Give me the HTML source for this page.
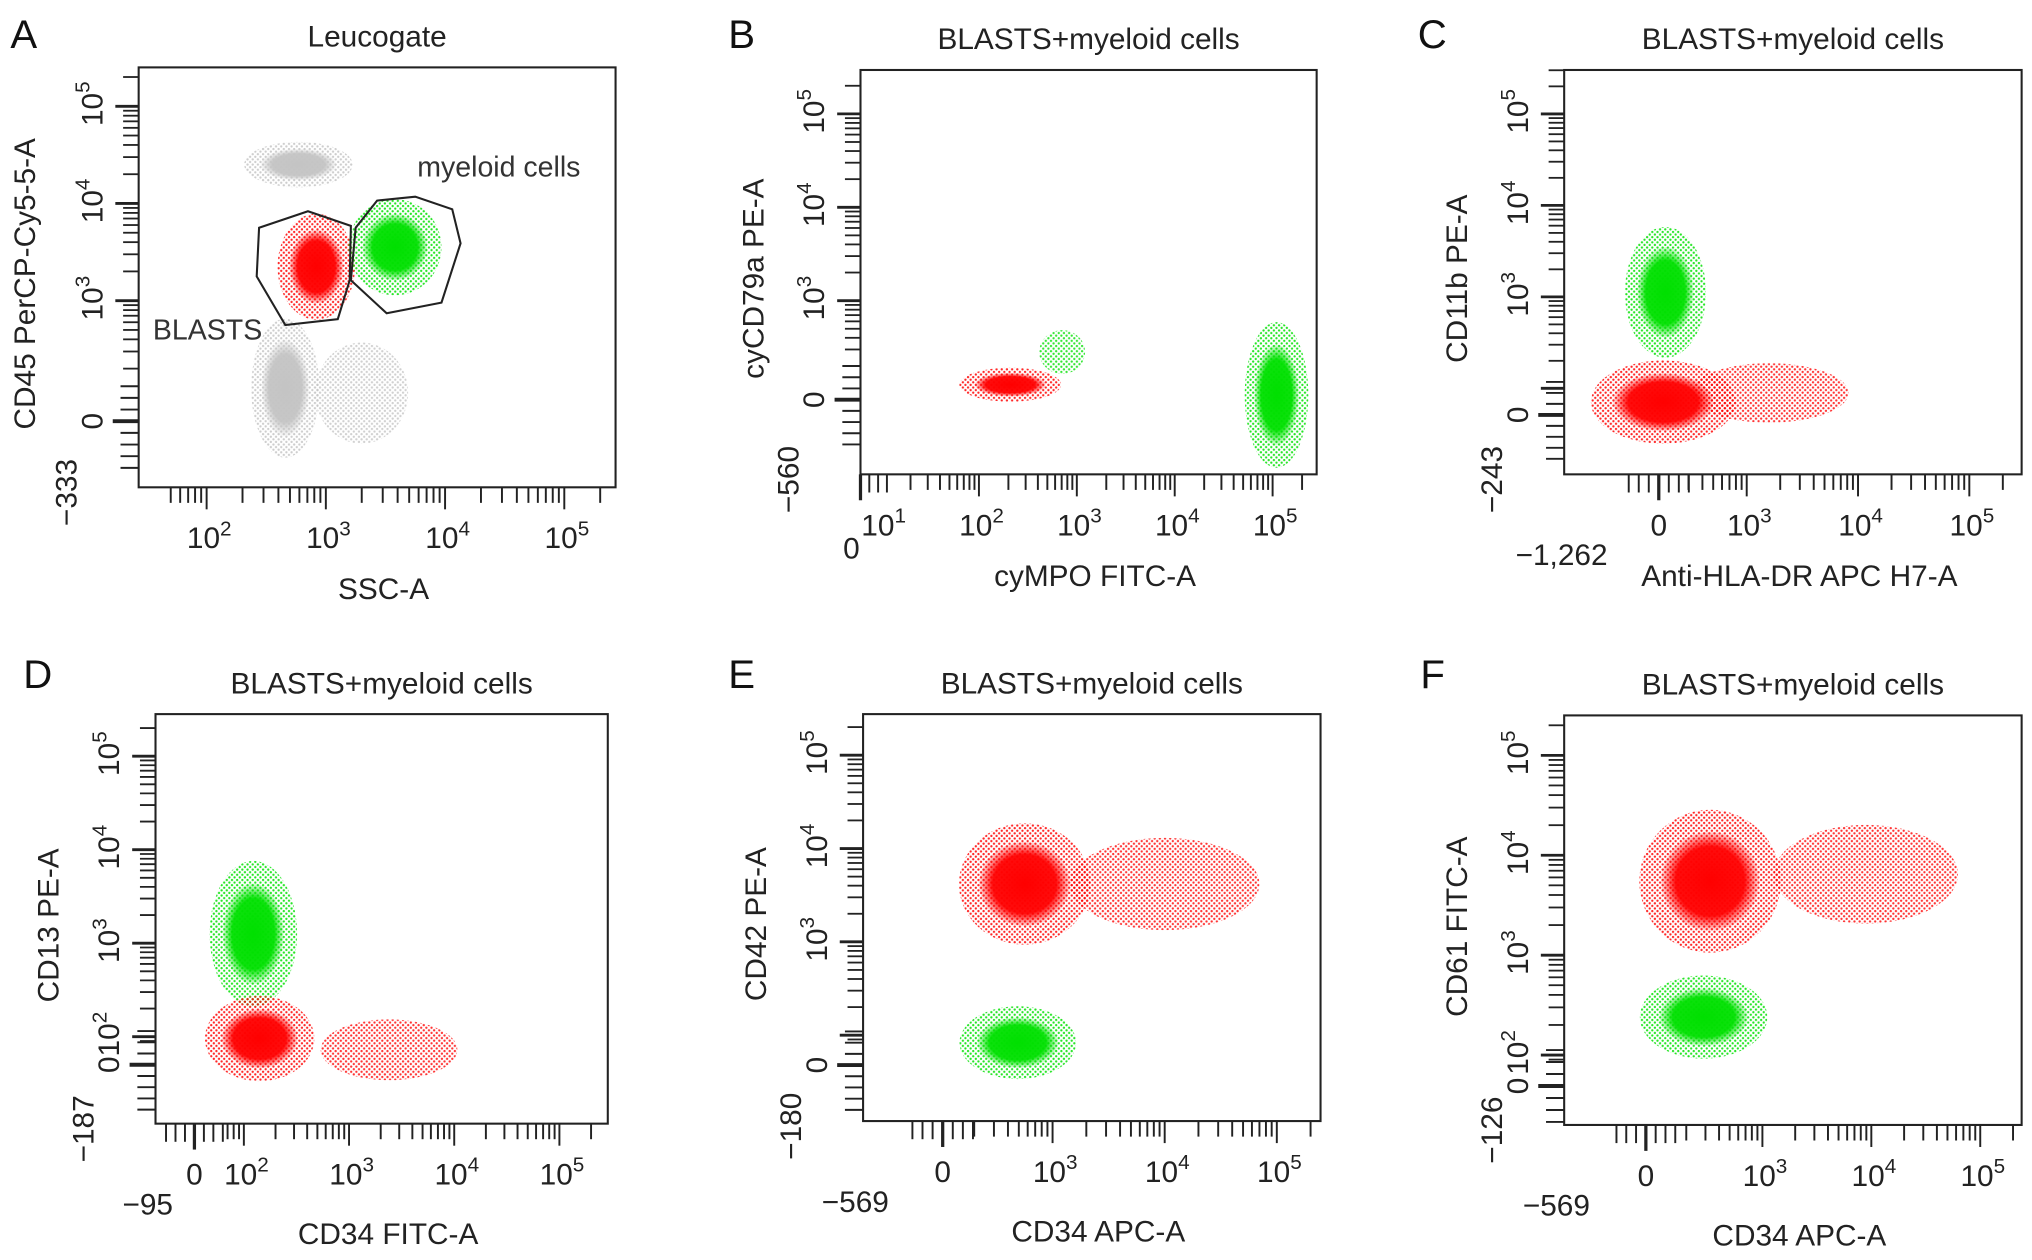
<!DOCTYPE html>
<html><head><meta charset="utf-8"><style>
html,body{margin:0;padding:0;background:#fff;}
svg{display:block;font-family:"Liberation Sans",Arial,sans-serif;}
</style></head><body>
<svg id="fig" width="2032" height="1260" viewBox="0 0 1568 972.2" preserveAspectRatio="none" xmlns="http://www.w3.org/2000/svg">
<defs>
<pattern id="spR" width="4" height="4" patternUnits="userSpaceOnUse"><circle cx="1" cy="1" r="0.9" fill="#ff0000"/><circle cx="3" cy="3" r="0.9" fill="#ff0000"/></pattern>
<pattern id="spG" width="4" height="4" patternUnits="userSpaceOnUse"><circle cx="1" cy="1" r="0.9" fill="#00e000"/><circle cx="3" cy="3" r="0.9" fill="#00e000"/></pattern>
<pattern id="spK" width="4" height="4" patternUnits="userSpaceOnUse"><circle cx="1" cy="1" r="0.9" fill="#c4c4c4"/><circle cx="3" cy="3" r="0.9" fill="#c4c4c4"/></pattern>
<radialGradient id="gR"><stop offset="0" stop-color="#ff0000" stop-opacity="1"/><stop offset="0.7" stop-color="#ff0000" stop-opacity="0.95"/><stop offset="1" stop-color="#ff0000" stop-opacity="0.1"/></radialGradient>
<radialGradient id="gG"><stop offset="0" stop-color="#00e000" stop-opacity="1"/><stop offset="0.7" stop-color="#00e000" stop-opacity="0.95"/><stop offset="1" stop-color="#00e000" stop-opacity="0.1"/></radialGradient>
<radialGradient id="gK"><stop offset="0" stop-color="#c4c4c4" stop-opacity="1"/><stop offset="0.7" stop-color="#c4c4c4" stop-opacity="0.95"/><stop offset="1" stop-color="#c4c4c4" stop-opacity="0.1"/></radialGradient>
</defs>
</svg>
<script>
// ---- panel data (axis units: 10^n -> n) ----
const panelIds = ['A','B','C','D','E','F'];
const panelTitles = ['Leucogate','BLASTS+myeloid cells','BLASTS+myeloid cells','BLASTS+myeloid cells','BLASTS+myeloid cells','BLASTS+myeloid cells'];
const xTitles = ['SSC-A','cyMPO FITC-A','Anti-HLA-DR APC H7-A','CD34 FITC-A','CD34 APC-A','CD34 APC-A'];
const yTitles = ['CD45 PerCP-Cy5-5-A','cyCD79a PE-A','CD11b PE-A','CD13 PE-A','CD42 PE-A','CD61 FITC-A'];
const xZero = [null,0.79,2.21,1.53,2.02,1.93];
const yZero = [1.76,1.94,1.71,1.70,1.68,1.69];
const xDecades = [[2,3,4,5],[1,2,3,4,5],[3,4,5],[2,3,4,5],[3,4,5],[3,4,5]];
const yDecades = [[3,4,5],[3,4,5],[3,4,5],[2,3,4,5],[3,4,5],[2,3,4,5]];
const xMinLabel = [null,null,'\u22121,262','\u221295','\u2212569','\u2212569'];
const yMinLabel = ['\u2212333','\u2212560','\u2212243','\u2212187','\u2212180','\u2212126'];
const xRange = [[1.43,5.43],[0.79,5.45],[1.36,5.47],[1.16,5.46],[1.31,5.39],[1.18,5.38]];
const yRange = [[1.08,5.4],[1.14,5.47],[1.06,5.48],[1.07,5.45],[1.08,5.44],[1.30,5.40]];
// clusters: panel index, center x/y, spread x/y (axis units), colour
const clusterPanel = [0,0,0,0,0, 1,1,1, 2,2,2, 3,3,3, 4,4,4, 5,5,5];
const clusterX =     [2.77,2.66,3.30,2.92,3.58, 2.32,2.85,5.04, 2.27,2.25,3.2, 2.09,2.15,3.38, 2.75,4.0,2.69, 2.52,3.95,2.46];
const clusterY =     [4.40,2.10,2.05,3.35,3.55, 2.10,2.45,1.99, 3.05,1.85,1.95, 3.10,1.98,1.86, 3.62,3.62,1.92, 3.74,3.81,2.38];
const clusterSX =    [0.35,0.22,0.30,0.25,0.30, 0.40,0.18,0.25, 0.28,0.50,0.55, 0.32,0.40,0.50, 0.45,0.65,0.40, 0.50,0.65,0.45];
const clusterSY =    [0.18,0.55,0.40,0.42,0.38, 0.14,0.18,0.60, 0.55,0.35,0.25, 0.60,0.35,0.25, 0.50,0.38,0.30, 0.55,0.38,0.32];
const clusterColor = ['K','K','K','R','G', 'R','G','G', 'G','R','R', 'G','R','R', 'R','R','G', 'R','R','G'];
const clusterDense = [1,1,0,1,1, 1,0,1, 1,1,0, 1,1,0, 1,0,1, 1,0,1];
// gates in panel A
const gateBlastsX = [2.44,2.85,3.21,3.20,3.10,2.66,2.42];
const gateBlastsY = [3.75,3.92,3.77,3.21,2.81,2.75,3.25];
const gateMyeloidX = [3.25,3.43,3.75,4.06,4.13,3.97,3.51,3.21];
const gateMyeloidY = [3.75,4.03,4.07,3.94,3.59,2.98,2.87,3.21];

// ---- layout (not data) ----
const boxes = [[107,52,475,376],[664,54,1016,366],[1207,54,1560,366],[120,551,469,867],[666,551,1019,865],[1207,552,1560,868]];
const letterPos = [[8,37],[562,37],[1094,37],[18,531],[562,531],[1096,531]];

const NS='http://www.w3.org/2000/svg';
const svg=document.getElementById('fig');
function el(t,a,p){const e=document.createElementNS(NS,t);for(const k in a)e.setAttribute(k,a[k]);(p||svg).appendChild(e);return e;}
function sx(i,u){const b=boxes[i],r=xRange[i];return b[0]+(u-r[0])/(r[1]-r[0])*(b[2]-b[0]);}
function sy(i,u){const b=boxes[i],r=yRange[i];return b[3]-(u-r[0])/(r[1]-r[0])*(b[3]-b[1]);}
function pow(parent,x,y,n,rot){
  const t=el('text',{x:x,y:y,'font-size':23,'text-anchor':'middle',fill:'#222'},parent);
  if(rot)t.setAttribute('transform','rotate(-90 '+x+' '+y+')');
  t.textContent='10';
  const s=el('tspan',{dy:-10,'font-size':16},t);s.textContent=String(n);
  return t;
}

panelIds.forEach((id,i)=>{
  const g=el('g',{});
  
  
  const b=boxes[i];
  const L=el('text',{x:letterPos[i][0],y:letterPos[i][1],'font-size':31,fill:'#111'},g);
  
  
  L.textContent=id;
  const T=el('text',{x:(b[0]+b[2])/2,y:b[1]-16,'font-size':23,'text-anchor':'middle',fill:'#222'},g);
  
  
  T.textContent=panelTitles[i];
  const plot=el('g',{},g);
  
  
  const cp=el('clipPath',{id:'cp'+i},plot);el('rect',{x:b[0],y:b[1],width:b[2]-b[0],height:b[3]-b[1]},cp);
  const cg=el('g',{'clip-path':'url(#cp'+i+')'},plot);
  clusterPanel.forEach((p,k)=>{
    if(p!==i)return;
    const cx=sx(i,clusterX[k]),cy=sy(i,clusterY[k]);
    const rx=Math.abs(sx(i,clusterX[k]+clusterSX[k])-cx),ry=Math.abs(sy(i,clusterY[k]+clusterSY[k])-cy);
    const c=clusterColor[k];
    const outer=el('ellipse',{cx:cx,cy:cy,rx:rx*1.3,ry:ry*1.3,fill:'url(#sp'+c+')',opacity:clusterDense[k]?0.85:0.8},cg);
    
    
    if(clusterDense[k]){
      const core=el('ellipse',{cx:cx,cy:cy,rx:rx*0.9,ry:ry*0.9,fill:'url(#g'+c+')'},cg);
      
      
    }
  });
  const fr=el('rect',{x:b[0],y:b[1],width:b[2]-b[0],height:b[3]-b[1],fill:'none',stroke:'#222','stroke-width':1.6},g);
  
  
  const xa=el('g',{stroke:'#222','stroke-width':1.5},g);
  
  
  const xr=xRange[i];
  const xLow = xZero[i]!==null? xZero[i]: xr[0];
  for(let n=Math.floor(xr[0]);n<=5;n++){
    for(let k=1;k<=9;k++){
      const u=n+Math.log10(k);
      if(u<xLow+0.25||u>xr[1])continue;
      const X=sx(i,u);el('line',{x1:X,x2:X,y1:b[3],y2:b[3]+(k===1?17:12)},xa);
    }
  }
  if(xZero[i]!==null){
    for(let d=-3;d<=3;d++){const u=xZero[i]+d*0.09;if(u<xr[0])continue;const X=sx(i,u);el('line',{x1:X,x2:X,y1:b[3],y2:b[3]+(d===0?20:14),'stroke-width':d===0?2.5:1.5},xa);}
  }
  const ly=b[3]+47;
  xDecades[i].forEach(n=>{const t=pow(g,sx(i,n)+2,ly,n,false);});
  if(xZero[i]!==null){
    const zx = i===1? sx(i,xZero[i])-7 : sx(i,xZero[i]);
    const zy = i===1? ly+18 : ly;
    const z=el('text',{x:zx,y:zy,'font-size':23,'text-anchor':'middle',fill:'#222'},g);
    
    
    z.textContent='0';
  }
  if(xMinLabel[i]){
    const m=el('text',{x:b[0]+(i===2?-2:-6),y:ly+23,'font-size':23,'text-anchor':'middle',fill:'#222'},g);
    
    
    m.textContent=xMinLabel[i];
  }
  const xt=el('text',{x:(b[0]+b[2])/2+5,y:b[3]+(i<3?86:93),'font-size':23,'text-anchor':'middle',fill:'#222'},g);
  
  
  xt.textContent=xTitles[i];
  const ya=el('g',{stroke:'#222','stroke-width':1.5},g);
  
  
  const yr=yRange[i];
  for(let n=Math.floor(yr[0]);n<=5;n++){
    for(let k=1;k<=9;k++){
      const u=n+Math.log10(k);
      if(u<yZero[i]+0.25||u>yr[1])continue;
      const Y=sy(i,u);el('line',{x1:b[0],x2:b[0]-(k===1?18:12),y1:Y,y2:Y,'stroke-width':k===1?2.2:1.4},ya);
    }
  }
  for(let d=-4;d<=3;d++){const u=yZero[i]+d*0.12;if(u<yr[0]-0.01)continue;const Y=sy(i,u);el('line',{x1:b[0],x2:b[0]-(d===0?20:14),y1:Y,y2:Y,'stroke-width':d===0?3:1.5},ya);}
  const lx=b[0]-28;
  yDecades[i].forEach(n=>{const t=pow(g,lx,sy(i,n)-2,n,true);});
  const z=el('text',{x:lx,y:sy(i,yZero[i]),'font-size':23,'text-anchor':'middle',fill:'#222',transform:'rotate(-90 '+lx+' '+sy(i,yZero[i])+')'},g);
  
  
  z.textContent='0';
  const my=b[3]+4,mx=lx-20;
  const m=el('text',{x:mx,y:my,'font-size':23,'text-anchor':'middle',fill:'#222',transform:'rotate(-90 '+mx+' '+my+')'},g);
  
  
  m.textContent=yMinLabel[i];
  const ty=(b[1]+b[3])/2+5,tx=b[0]-(i===0?80:75);
  const yt=el('text',{x:tx,y:ty,'font-size':23,'text-anchor':'middle',fill:'#222',transform:'rotate(-90 '+tx+' '+ty+')'},g);
  
  
  yt.textContent=yTitles[i];
});

function gate(xs,ys,name){
  const pts=xs.map((u,k)=>sx(0,u)+','+sy(0,ys[k])).join(' ');
  const p=el('polygon',{points:pts,fill:'none',stroke:'#222','stroke-width':1.6});
  
  
}
gate(gateBlastsX,gateBlastsY,'blasts-gate');
gate(gateMyeloidX,gateMyeloidY,'myeloid-gate');
const gl1=el('text',{x:322,y:136,'font-size':22,fill:'#333'});


gl1.textContent='myeloid cells';
const gl2=el('text',{x:118,y:262,'font-size':22,fill:'#333'});


gl2.textContent='BLASTS';
</script>
</body></html>
